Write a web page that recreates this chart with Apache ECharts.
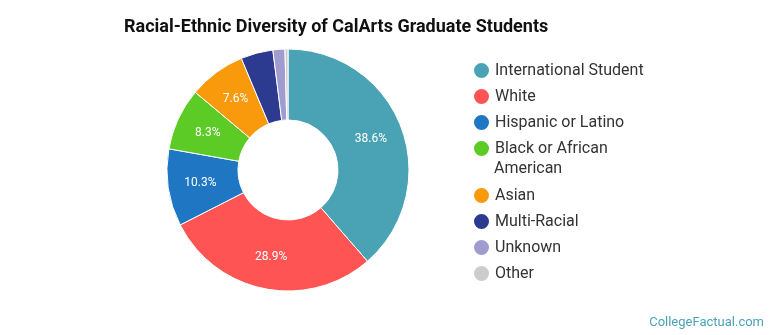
<!DOCTYPE html>
<html>
<head>
<meta charset="utf-8">
<script src="https://cdn.jsdelivr.net/npm/echarts@6/dist/echarts.min.js"></script>
<style>
  html, body { margin: 0; padding: 0; background: #fff; }
  #main { width: 770px; height: 335px; }
</style>
</head>
<body>
<div id="main"></div>
<script>
// groups and their share of graduate students (%)
const groups = ["International Student", "White", "Hispanic or Latino", "Black or African American",
  "Asian", "Multi-Racial", "Unknown", "Other"];
const shares = [38.6, 28.9, 10.3, 8.3, 7.6, 4.3, 1.6, 0.4];
const colors = ["#4aa3b5", "#fe5454", "#1f77c4", "#5ccb26", "#f89a0c", "#2c3a8f", "#a09ccf", "#cccccc"];

var chartDom = document.getElementById("main");
var myChart = echarts.init(chartDom);

const pieData = groups.map(function (name, i) {
  return {
    name: name,
    value: shares[i],
    itemStyle: { color: colors[i] },
    // small slices get no label
    label: { show: shares[i] >= 5 },
  };
});

// legend is split in two so the icon of the wrapped entry sits on its first line
const legendBase = {
  orient: "vertical",
  left: 467,
  icon: "circle",
  itemWidth: 17,
  itemHeight: 17,
  itemGap: 5,
  formatter: function (name) {
    return name === "Black or African American" ? "Black or African" : name;
  },
  textStyle: {
    fontFamily: "Roboto",
    fontSize: 16,
    color: "#333",
    lineHeight: 21,
  },
};

var option = {
  animation: false,
  title: {
    text: "Racial-Ethnic Diversity of CalArts Graduate Students",
    left: 119,
    top: 13,
    textStyle: {
      fontFamily: "Roboto",
      fontWeight: "bold",
      fontSize: 18,
      color: "#111",
    },
  },
  legend: [
    Object.assign({}, legendBase, { top: 55, data: groups.slice(0, 4) }),
    Object.assign({}, legendBase, { top: 180, data: groups.slice(4) }),
  ],
  graphic: [
    {
      type: "text",
      left: 494,
      top: 161,
      style: {
        text: "American",
        fill: "#333",
        font: "16px Roboto",
      },
    },
    {
      type: "text",
      right: 6,
      bottom: 6,
      style: {
        text: "CollegeFactual.com",
        fill: "#4aa3b5",
        font: "13px Roboto",
      },
    },
  ],
  series: [
    {
      type: "pie",
      center: [288, 170],
      radius: [50, 121],
      startAngle: 90,
      clockwise: true,
      avoidLabelOverlap: false,
      itemStyle: { borderColor: "#fff", borderWidth: 1 },
      label: {
        position: "inside",
        formatter: function (p) { return p.value.toFixed(1) + "%"; },
        color: "#fff",
        fontFamily: "Roboto",
        fontSize: 12,
      },
      labelLine: { show: false },
      emphasis: { scale: false },
      data: pieData,
    },
  ],
};

option && myChart.setOption(option);
</script>
</body>
</html>
